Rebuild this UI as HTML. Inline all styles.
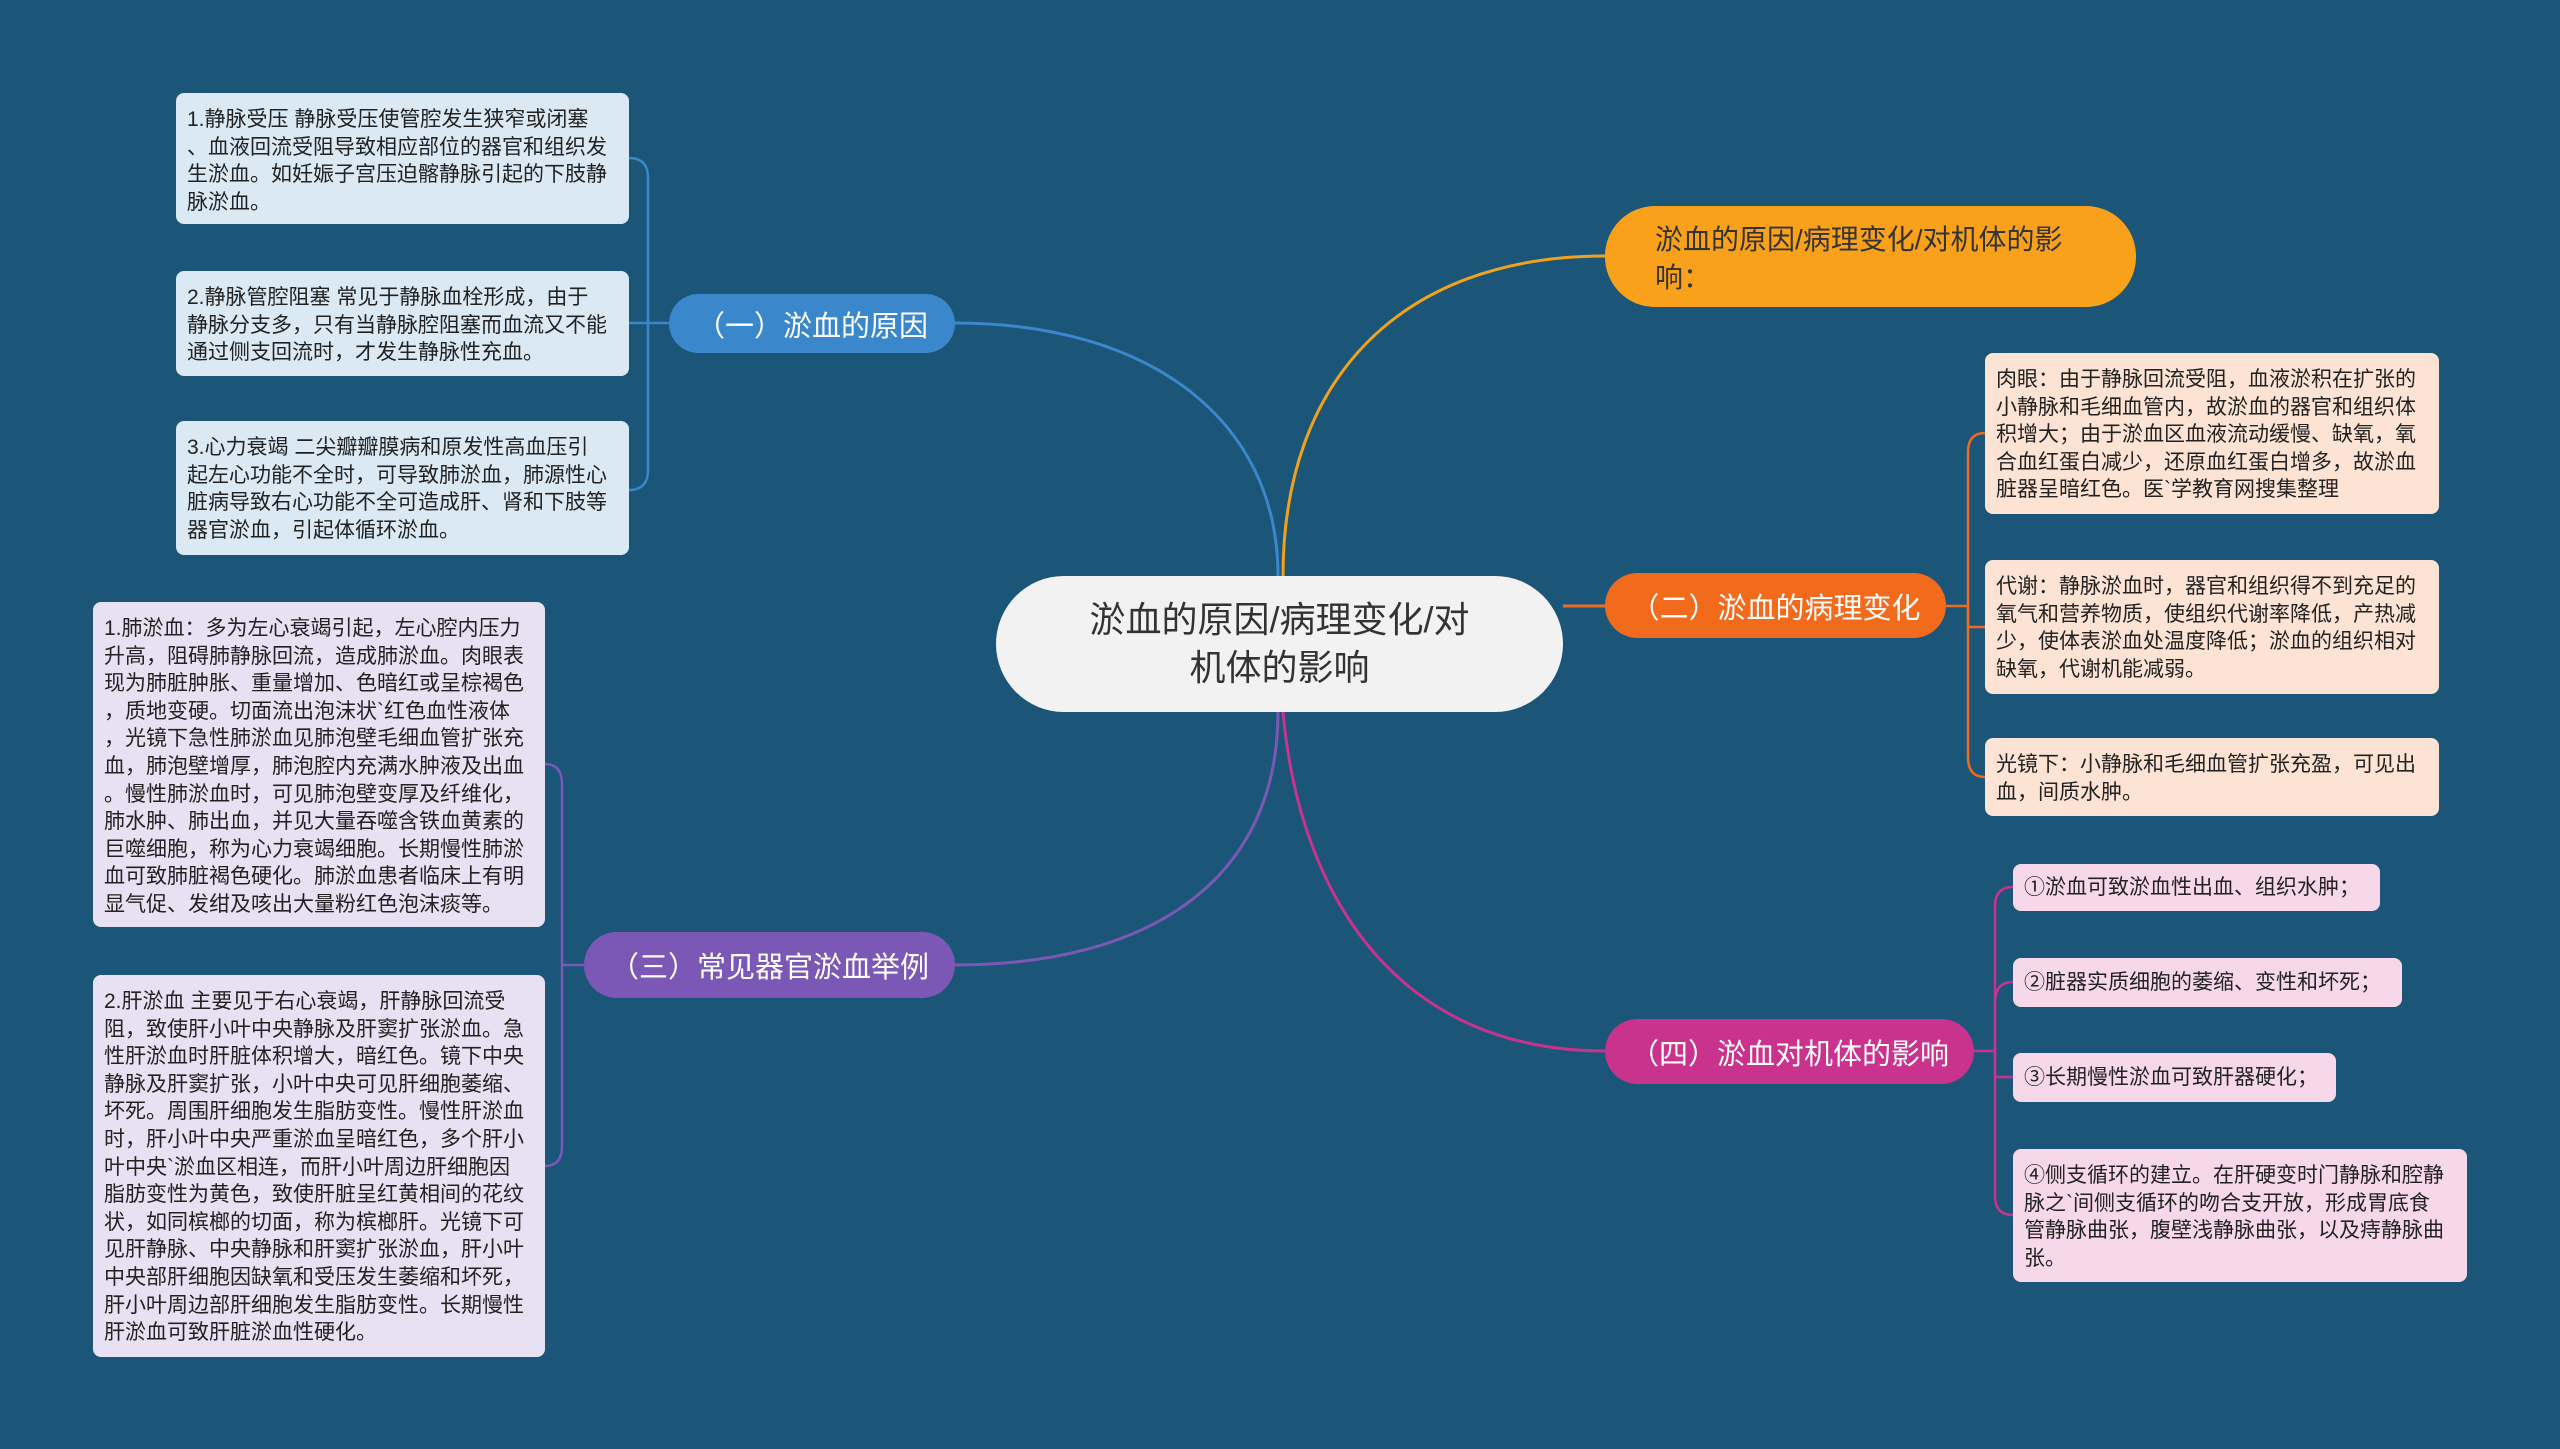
<!DOCTYPE html>
<html><head><meta charset="utf-8"><style>
body{margin:0;width:2560px;height:1449px;background:#1b5678;position:relative;overflow:hidden;font-family:"Liberation Sans","Noto Sans CJK SC",sans-serif;}
.n{position:absolute;box-sizing:border-box;}
.leaf{position:absolute;box-sizing:border-box;border-radius:8px;font-size:21px;line-height:27.6px;padding:13px 11px 9px;white-space:nowrap;color:#222;}
.br{position:absolute;box-sizing:border-box;border-radius:40px;color:#fff;font-size:29px;display:flex;align-items:center;justify-content:center;}
svg{position:absolute;left:0;top:0;}
</style></head><body>
<svg width="2560" height="1449" fill="none" stroke-width="3">
<path d="M1278 576 C1278 420 1150 323 955 323" stroke="#3b87cc"/>
<path d="M1283 576 C1283 380 1400 256 1605 256" stroke="#f0a21e"/>
<path d="M1563 606 L1605 606" stroke="#ef6a1f"/>
<path d="M1278 712 C1278 880 1150 965 955 965" stroke="#7b58b5"/>
<path d="M1283 712 C1300 900 1400 1051 1605 1051" stroke="#c9338e"/>
<g stroke="#3b87cc" stroke-width="2.5">
<path d="M669 323 L648 323"/>
<path d="M648 323 L648 178 Q648 158 629 158"/>
<path d="M648 323 L629 323"/>
<path d="M648 323 L648 470 Q648 490 629 490"/>
</g>
<g stroke="#ef6a1f" stroke-width="2.5">
<path d="M1946 606 L1968 606"/>
<path d="M1968 606 L1968 452 Q1968 433 1985 433"/>
<path d="M1968 606 L1968 627 Q1968 627 1985 627"/>
<path d="M1968 606 L1968 757 Q1968 777 1985 777"/>
</g>
<g stroke="#7b58b5" stroke-width="2.5">
<path d="M584 965 L562 965"/>
<path d="M562 965 L562 784 Q562 764 545 764"/>
<path d="M562 965 L562 1146 Q562 1166 545 1166"/>
</g>
<g stroke="#c9338e" stroke-width="2.5">
<path d="M1974 1051 L1995 1051"/>
<path d="M1995 1051 L1995 906 Q1995 887 2013 887"/>
<path d="M1995 1051 L1995 1002 Q1995 982 2013 982"/>
<path d="M1995 1051 L1995 1077 Q1995 1077 2013 1077"/>
<path d="M1995 1051 L1995 1196 Q1995 1215 2013 1215"/>
</g>
</svg>

<div class="n" style="left:996px;top:576px;width:567px;height:136px;background:#f2f2f2;border-radius:68px;font-size:36px;line-height:48px;color:#333;text-align:center;padding-top:20px;">淤血的原因/病理变化/对<br>机体的影响</div>

<div class="br" style="left:669px;top:294px;width:286px;height:59px;background:#3b87cc;">（一）淤血的原因</div>
<div class="n" style="left:1605px;top:206px;width:531px;height:101px;background:#f9a11b;border-radius:50px;font-size:28px;line-height:38px;color:#333;padding:15px 0 0 50px;">淤血的原因/病理变化/对机体的影<br>响：</div>
<div class="br" style="left:1605px;top:573px;width:341px;height:65px;background:#f26b1d;">（二）淤血的病理变化</div>
<div class="br" style="left:584px;top:932px;width:371px;height:66px;background:#7b58b5;">（三）常见器官淤血举例</div>
<div class="br" style="left:1605px;top:1019px;width:369px;height:65px;background:#c9338e;">（四）淤血对机体的影响</div>

<div class="leaf" style="left:176px;top:93px;width:453px;height:131px;background:#dbe9f5;">1.静脉受压 静脉受压使管腔发生狭窄或闭塞<br>、血液回流受阻导致相应部位的器官和组织发<br>生淤血。如妊娠子宫压迫髂静脉引起的下肢静<br>脉淤血。</div>
<div class="leaf" style="left:176px;top:271px;width:453px;height:105px;background:#dbe9f5;">2.静脉管腔阻塞 常见于静脉血栓形成，由于<br>静脉分支多，只有当静脉腔阻塞而血流又不能<br>通过侧支回流时，才发生静脉性充血。</div>
<div class="leaf" style="left:176px;top:421px;width:453px;height:134px;background:#dbe9f5;">3.心力衰竭 二尖瓣瓣膜病和原发性高血压引<br>起左心功能不全时，可导致肺淤血，肺源性心<br>脏病导致右心功能不全可造成肝、肾和下肢等<br>器官淤血，引起体循环淤血。</div>

<div class="leaf" style="left:1985px;top:353px;width:454px;height:161px;background:#fde3d3;">肉眼：由于静脉回流受阻，血液淤积在扩张的<br>小静脉和毛细血管内，故淤血的器官和组织体<br>积增大；由于淤血区血液流动缓慢、缺氧，氧<br>合血红蛋白减少，还原血红蛋白增多，故淤血<br>脏器呈暗红色。医`学教育网搜集整理</div>
<div class="leaf" style="left:1985px;top:560px;width:454px;height:134px;background:#fde3d3;">代谢：静脉淤血时，器官和组织得不到充足的<br>氧气和营养物质，使组织代谢率降低，产热减<br>少，使体表淤血处温度降低；淤血的组织相对<br>缺氧，代谢机能减弱。</div>
<div class="leaf" style="left:1985px;top:738px;width:454px;height:78px;background:#fde3d3;">光镜下：小静脉和毛细血管扩张充盈，可见出<br>血，间质水肿。</div>

<div class="leaf" style="left:93px;top:602px;width:452px;height:325px;background:#e8e1f3;">1.肺淤血：多为左心衰竭引起，左心腔内压力<br>升高，阻碍肺静脉回流，造成肺淤血。肉眼表<br>现为肺脏肿胀、重量增加、色暗红或呈棕褐色<br>，质地变硬。切面流出泡沫状`红色血性液体<br>，光镜下急性肺淤血见肺泡壁毛细血管扩张充<br>血，肺泡壁增厚，肺泡腔内充满水肿液及出血<br>。慢性肺淤血时，可见肺泡壁变厚及纤维化，<br>肺水肿、肺出血，并见大量吞噬含铁血黄素的<br>巨噬细胞，称为心力衰竭细胞。长期慢性肺淤<br>血可致肺脏褐色硬化。肺淤血患者临床上有明<br>显气促、发绀及咳出大量粉红色泡沫痰等。</div>
<div class="leaf" style="left:93px;top:975px;width:452px;height:382px;background:#e8e1f3;">2.肝淤血 主要见于右心衰竭，肝静脉回流受<br>阻，致使肝小叶中央静脉及肝窦扩张淤血。急<br>性肝淤血时肝脏体积增大，暗红色。镜下中央<br>静脉及肝窦扩张，小叶中央可见肝细胞萎缩、<br>坏死。周围肝细胞发生脂肪变性。慢性肝淤血<br>时，肝小叶中央严重淤血呈暗红色，多个肝小<br>叶中央`淤血区相连，而肝小叶周边肝细胞因<br>脂肪变性为黄色，致使肝脏呈红黄相间的花纹<br>状，如同槟榔的切面，称为槟榔肝。光镜下可<br>见肝静脉、中央静脉和肝窦扩张淤血，肝小叶<br>中央部肝细胞因缺氧和受压发生萎缩和坏死，<br>肝小叶周边部肝细胞发生脂肪变性。长期慢性<br>肝淤血可致肝脏淤血性硬化。</div>

<div class="leaf" style="left:2013px;top:864px;width:367px;height:47px;background:#f6d8ea;padding-top:10px;">①淤血可致淤血性出血、组织水肿；</div>
<div class="leaf" style="left:2013px;top:958px;width:389px;height:49px;background:#f6d8ea;padding-top:11px;">②脏器实质细胞的萎缩、变性和坏死；</div>
<div class="leaf" style="left:2013px;top:1053px;width:323px;height:49px;background:#f6d8ea;padding-top:11px;">③长期慢性淤血可致肝器硬化；</div>
<div class="leaf" style="left:2013px;top:1149px;width:454px;height:133px;background:#f6d8ea;">④侧支循环的建立。在肝硬变时门静脉和腔静<br>脉之`间侧支循环的吻合支开放，形成胃底食<br>管静脉曲张，腹壁浅静脉曲张，以及痔静脉曲<br>张。</div>
</body></html>
